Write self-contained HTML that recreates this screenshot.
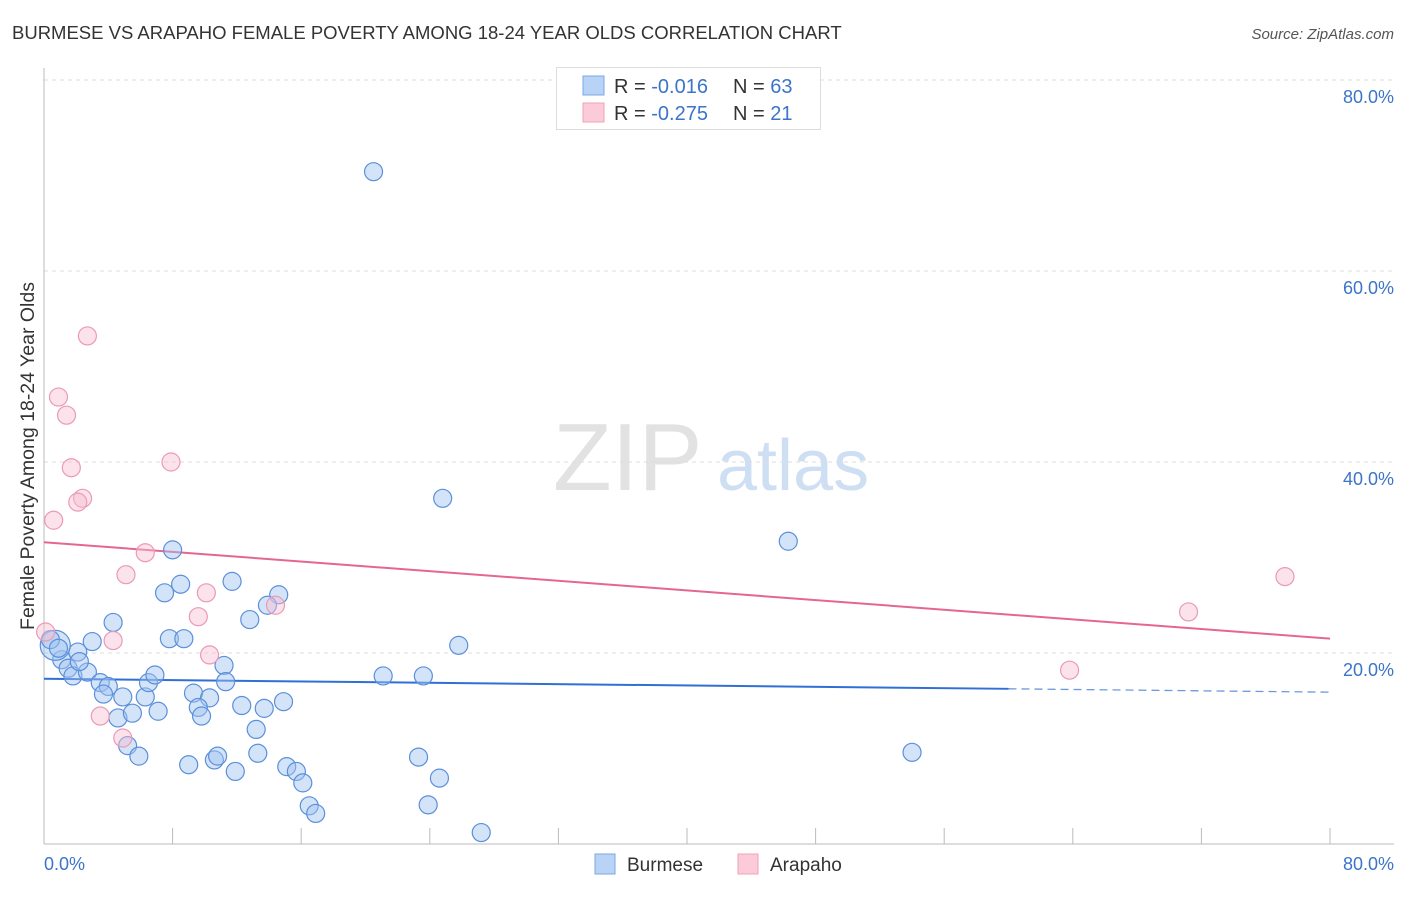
<!DOCTYPE html>
<html><head><meta charset="utf-8"><style>
body{margin:0;background:#fff;font-family:"Liberation Sans",sans-serif;}
svg text{font-family:"Liberation Sans",sans-serif;}
</style></head><body>
<svg id="chart" width="1406" height="892" xmlns="http://www.w3.org/2000/svg">
<text x="12" y="39" font-size="18.5" fill="#333">BURMESE VS ARAPAHO FEMALE POVERTY AMONG 18-24 YEAR OLDS CORRELATION CHART</text>
<text x="1394" y="39" font-size="15" fill="#555" text-anchor="end" font-style="italic">Source: ZipAtlas.com</text>
<g>
<text x="553" y="490" font-size="96" fill="#e2e2e2" font-family="Liberation Serif">ZIP</text>
<text x="717" y="490" font-size="72" fill="#cfdff3">atlas</text>
</g>
<g id="grid"></g>
<g id="axes"></g>
<g id="trend"></g>
<g id="points"></g>
<text transform="translate(34,456) rotate(-90)" font-size="19.5" fill="#333" text-anchor="middle">Female Poverty Among 18-24 Year Olds</text>
<text x="44" y="870" font-size="18" fill="#3b74c9">0.0%</text>
<text x="1394" y="870" font-size="18" fill="#3b74c9" text-anchor="end">80.0%</text>
<g>
<rect x="556.5" y="67.5" width="264" height="62" fill="#fff" stroke="#ddd"/>
<rect x="583" y="76" width="21" height="19" fill="#b8d3f5" stroke="#7aa7e6"/>
<rect x="583" y="103" width="21" height="19" fill="#fbcbd9" stroke="#f0a0b8"/>
<text x="614" y="93" font-size="20" fill="#333">R = <tspan fill="#3b74c9">-0.016</tspan><tspan x="733">N = </tspan><tspan fill="#3b74c9">63</tspan></text>
<text x="614" y="120" font-size="20" fill="#333">R = <tspan fill="#3b74c9">-0.275</tspan><tspan x="733">N = </tspan><tspan fill="#3b74c9"> 21</tspan></text>
</g>
<g>
<rect x="595" y="854" width="20" height="20" fill="#b8d3f5" stroke="#7aa7e6"/>
<text x="627" y="871" font-size="19" fill="#333">Burmese</text>
<rect x="738" y="854" width="20" height="20" fill="#fbcbd9" stroke="#f0a0b8"/>
<text x="770" y="871" font-size="19" fill="#333">Arapaho</text>
</g>
</svg>
<script>
const yTicks=[20,40,60,80];
const yTickLabels=["20.0%","40.0%","60.0%","80.0%"];
const xTicks=[8,16,24,32,40,48,56,64,72,80];
const burmeseX=[20.5,24.8,46.3,54.0,25.8,21.1,23.6,8.0,8.5,7.5,11.7,14.6,13.9,12.8,7.8,8.7,4.3,3.0,2.1,1.1,1.5,1.8,2.7,3.5,4.0,3.7,4.9,6.3,6.5,6.9,2.2,0.7,0.4,0.9,9.3,10.3,9.6,9.8,12.3,13.7,14.9,11.2,11.3,4.6,5.5,7.1,5.2,5.9,9.0,10.6,10.8,11.9,13.3,13.2,15.1,15.7,16.1,16.5,16.9,23.3,24.6,23.9,27.2];
const burmeseY=[70.4,36.2,31.7,9.6,20.8,17.6,17.6,30.8,27.2,26.3,27.5,26.1,25.0,23.5,21.5,21.5,23.2,21.2,20.1,19.3,18.4,17.6,18.0,16.9,16.5,15.7,15.4,15.4,16.9,17.7,19.1,20.8,21.4,20.5,15.8,15.3,14.3,13.4,14.5,14.2,14.9,18.7,17.0,13.2,13.7,13.9,10.3,9.2,8.3,8.8,9.2,7.6,9.5,12.0,8.1,7.6,6.4,4.0,3.2,9.1,6.9,4.1,1.2];
const arapahoX=[2.7,0.9,1.4,1.7,2.4,2.1,0.6,7.9,5.1,6.3,10.1,9.6,4.3,10.3,3.5,4.9,14.4,63.8,71.2,77.2,0.1];
const arapahoY=[53.2,46.8,44.9,39.4,36.2,35.8,33.9,40.0,28.2,30.5,26.3,23.8,21.3,19.8,13.4,11.1,25.0,18.2,24.3,28.0,22.2];
const burmeseTrend=[17.3,15.9];
const arapahoTrend=[31.6,21.5];
const NS="http://www.w3.org/2000/svg";
const X=v=>44+v/80*1286, Y=v=>844-v/20*191;
function mk(tag,attrs,parent){const e=document.createElementNS(NS,tag);for(const k in attrs)e.setAttribute(k,attrs[k]);parent.appendChild(e);return e;}
const grid=document.getElementById('grid'),axes=document.getElementById('axes'),trend=document.getElementById('trend'),pts=document.getElementById('points');
yTicks.forEach((t,i)=>{
 const l=mk('line',{x1:44,x2:1394,y1:Y(t),y2:Y(t),stroke:'#ddd','stroke-dasharray':'4,4'},grid);
 
 
 const tx=mk('text',{x:1394,y:Y(t)+23,'font-size':18,fill:'#3b74c9','text-anchor':'end'},grid);
 tx.textContent=yTickLabels[i];
 
 
});
const la=mk('line',{x1:44,x2:44,y1:68,y2:844,stroke:'#bbb'},axes);


const lb=mk('line',{x1:44,x2:1394,y1:844,y2:844,stroke:'#bbb'},axes);


xTicks.forEach(t=>{
 const l=mk('line',{x1:X(t),x2:X(t),y1:828,y2:844,stroke:'#bbb'},axes);
 
 
});
const bt=mk('line',{x1:X(0),y1:Y(burmeseTrend[0]),x2:X(60),y2:Y(burmeseTrend[0]+(burmeseTrend[1]-burmeseTrend[0])*0.75),stroke:'#2f6fd6','stroke-width':2},trend);


const bd=mk('line',{x1:X(60),y1:Y(burmeseTrend[0]+(burmeseTrend[1]-burmeseTrend[0])*0.75),x2:X(80),y2:Y(burmeseTrend[1]),stroke:'#6d99dd','stroke-width':1.3,'stroke-dasharray':'8,5'},trend);


const at=mk('line',{x1:X(0),y1:Y(arapahoTrend[0]),x2:X(80),y2:Y(arapahoTrend[1]),stroke:'#e4678f','stroke-width':2},trend);


burmeseX.forEach((x,i)=>{
 const c=mk('circle',{cx:X(x),cy:Y(burmeseY[i]),r:(i===31?15:9),fill:'rgba(160,196,240,0.45)',stroke:'#5b8fdc','stroke-width':1.2},pts);
 
 
});
arapahoX.forEach((x,i)=>{
 const c=mk('circle',{cx:X(x),cy:Y(arapahoY[i]),r:9,fill:'rgba(248,190,208,0.45)',stroke:'#eb9ab4','stroke-width':1.2},pts);
 
 
});
</script>
</body></html>
